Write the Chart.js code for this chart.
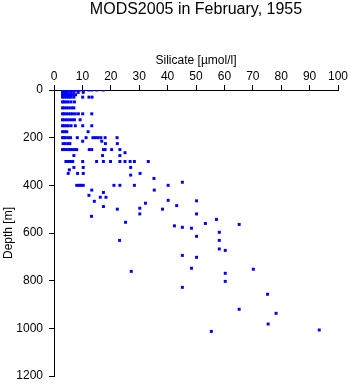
<!DOCTYPE html>
<html>
<head>
<meta charset="utf-8">
<script src="https://cdn.jsdelivr.net/npm/chart.js@4/dist/chart.umd.min.js"></script>
<style>
  body { margin: 0; background: #fff; }
</style>
</head>
<body>
<canvas id="chart" width="351" height="384"></canvas>
<script>
// Silicate profile samples, one entry per observation (depth in m, silicate in µmol/l)
const depth = [
    0, 0, 0, 0, 0, 0, 0, 0, 0, 0, 0, 0, 0, 0, 0, 0, 0,
    10, 10, 10, 10, 10, 10, 10, 10,
    20, 20, 20, 20, 20, 20, 20,
    30, 30, 30, 30, 30, 30, 30, 30, 30,
    50, 50, 50, 50, 50, 50,
    75, 75, 75, 75, 75, 75,
    100, 100, 100, 100, 100, 100, 100, 100, 100, 100,
    125, 125, 125, 125, 125, 125, 125,
    150, 150, 150, 150, 150, 150, 150, 150,
    175, 175, 175, 175,
    200, 200, 200, 200, 200, 200, 200, 200, 200, 200, 200, 200, 200,
    215, 215,
    225, 225, 225, 225, 225, 225,
    250, 250, 250, 250, 250, 250, 250, 250, 250, 250, 250, 250, 250, 250,
    263, 275, 275, 275,
    300, 300, 300, 300, 300, 300, 300, 300, 300, 300, 300, 300, 300,
    325, 325, 325, 335, 350, 350, 350, 350, 357, 371,
    387, 400, 400, 400, 400, 400, 400, 400, 400,
    420, 420, 430, 442, 450, 450, 463, 465, 467, 475, 485, 489, 496,
    500, 500, 520, 520, 530, 543, 555, 560, 564, 570, 576, 580, 597,
    614, 631, 631, 667, 673, 694, 702, 748, 752, 761, 769,
    803, 828, 857, 920, 937, 982, 1007, 1013,
];
const silicate = [
    3, 3.5, 4, 4.5, 5, 5.5, 6, 6.5, 7, 7.5, 8, 9, 10.2, 12.3, 13.4, 15.1, 17.3,
    3, 3.6, 4.2, 5, 6, 7, 8.5, 10.3,
    3, 3.4, 4, 4.8, 5.5, 6.5, 7.6,
    3, 3.8, 4.5, 5.2, 6, 7, 10.1, 12.3, 13.4,
    3, 3.5, 4.2, 5, 6, 7.2,
    3, 3.6, 4.4, 5.2, 6.2, 7,
    3, 3.5, 4.2, 5, 5.8, 6.5, 7.5, 8.6, 10.1, 13.3,
    3, 3.8, 4.6, 5.5, 6.4, 7.2, 9.2,
    3, 3.5, 4.3, 5, 6, 7.5, 10.1, 13.3,
    3, 3.8, 4.5, 12,
    3, 3.5, 4, 5, 5.8, 8.2, 11.3, 13.7, 14.6, 15.5, 16.5, 18, 22.2,
    10.1, 16.8,
    3.2, 4, 5, 5.6, 18.1, 22.3,
    3, 3.5, 4.2, 5, 5.8, 6.5, 7.4, 8, 12.4, 13.3, 17.4, 18, 20.3, 23.2,
    25, 7, 17.1, 23.2,
    4.2, 5, 5.8, 6.6, 10.1, 15, 17.4, 19.9, 23.2, 25, 26.8, 28.3, 33.2,
    27, 7, 10.3, 5.4, 5, 8.3, 10.3, 30.3, 27, 35.2,
    45.2, 8, 8.8, 9.5, 10.3, 21.1, 23.2, 28.3, 40.2,
    13.3, 35.3, 17.4, 12.3, 16.3, 18.3, 40.2, 50.2, 14.2, 32.2, 43.2, 17.4, 30.2,
    22.3, 38.2, 50.2, 30.2, 13.2, 57.2, 25.2, 53.3, 65.2, 42.4, 45.2, 48.4, 58.2,
    50.2, 58.2, 23.1, 58.2, 60.3, 45.2, 50.2, 48.4, 70.2, 27.2, 60.3,
    60.3, 45.2, 75.2, 65.2, 78.2, 75.4, 93.4, 55.4,
];

const TITLE = 'MODS2005 in February, 1955';
const FONT = '"Liberation Sans", Arial, Helvetica, sans-serif';

// Title is centred over the plot area, not the whole canvas
const plotTitle = {
    id: 'plotTitle',
    afterDraw(chart) {
        const { ctx, chartArea } = chart;
        ctx.save();
        ctx.fillStyle = '#000';
        ctx.font = `16px ${FONT}`;
        ctx.textAlign = 'center';
        ctx.textBaseline = 'middle';
        ctx.fillText(TITLE, (chartArea.left + chartArea.right) / 2, 10);
        ctx.restore();
    },
};

const axisBase = {
    type: 'linear',
    grid: { drawOnChartArea: false, drawTicks: true, tickLength: 5, color: '#000', lineWidth: 1 },
    border: { display: true, color: '#000', width: 1 },
};

new Chart(document.getElementById('chart'), {
    type: 'scatter',
    data: {
        datasets: [{
            data: silicate.map((s, i) => ({ x: s, y: depth[i] })),
            pointStyle: 'rect',
            pointRadius: 2.1,
            backgroundColor: '#0000ff',
            borderWidth: 0,
        }],
    },
    plugins: [plotTitle],
    options: {
        responsive: false,
        animation: false,
        layout: {
            padding: { top: 23, right: 13, bottom: 8, left: 0 },
        },
        plugins: {
            legend: { display: false },
            tooltip: { enabled: false },
        },
        scales: {
            x: {
                ...axisBase,
                position: 'top',
                min: 0,
                max: 100,
                ticks: { stepSize: 10, color: '#000', padding: 1, maxRotation: 0, font: { family: FONT, size: 12 } },
                title: {
                    display: true,
                    text: 'Silicate [µmol/l]',
                    color: '#000',
                    font: { family: FONT, size: 12 },
                    padding: { top: 30, bottom: 0 },
                },
                afterFit: (scale) => { scale.height = 67; },
            },
            y: {
                ...axisBase,
                reverse: true,
                min: 0,
                max: 1200,
                ticks: {
                    stepSize: 200,
                    color: '#000',
                    padding: 6,
                    font: { family: FONT, size: 12 },
                    callback: (v) => String(v),
                },
                title: {
                    display: true,
                    text: 'Depth [m]',
                    color: '#000',
                    font: { family: FONT, size: 12 },
                    padding: { top: 1, bottom: 0 },
                },
                afterFit: (scale) => {
                    scale.width = 54;
                    // let the plot run down to y=376 like the reference
                    scale.paddingBottom = 8;
                },
            },
        },
    },
});
</script>
</body>
</html>
